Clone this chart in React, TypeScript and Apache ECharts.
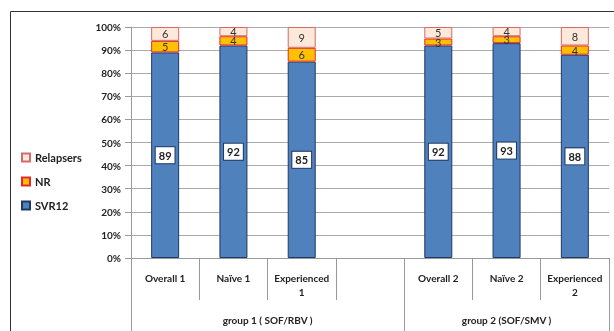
import React, { useEffect, useRef } from "react";
import * as echarts from "echarts";

const categories = ["Overall 1", "Naïve 1", "Experienced\n1", "", "Overall 2", "Naïve 2", "Experienced\n2"];
const svr12 = [89, 92, 85, "-", 92, 93, 88];
const nr = [5, 4, 6, "-", 3, 3, 4];
const relapsers = [6, 4, 9, "-", 5, 4, 8];
const groupLabels = ["", "", "", "", "group 1 ( SOF/RBV )", "", "", "", "", "", "", "group 2 (SOF/SMV )", "", "", ""];
const groupDividers = [0, 8, 14];
const legendOrder = ["Relapsers", "NR", "SVR12"];

const FONT = "Lato, 'Open Sans', sans-serif";

export default function App() {
  const ref = useRef<HTMLDivElement>(null);
  useEffect(() => {
    if (!ref.current) return;
    const chart = echarts.init(ref.current, undefined, { renderer: "svg" });
    chart.setOption({
      animation: false,
      textStyle: { fontFamily: FONT },
      graphic: [
        {
          type: "rect",
          z: -10,
          shape: { x: 10.5, y: 11.5, width: 700, height: 400 },
          style: { fill: "#fff", stroke: "#333", lineWidth: 1 },
          silent: true,
        },
      ],
      legend: {
        orient: "vertical",
        left: 21,
        top: 152,
        padding: 0,
        icon: "rect",
        itemWidth: 8,
        itemHeight: 8,
        itemGap: 13,
        data: legendOrder,
        textStyle: { fontFamily: FONT, fontWeight: "bold", fontSize: 11, color: "#222" },
      },
      grid: { left: 131, right: 5, top: 27, bottom: 73, containLabel: false },
      xAxis: [
        {
          type: "category",
          data: categories,
          position: "bottom",
          axisLine: { show: true, lineStyle: { color: "#999", width: 1 } },
          axisTick: { show: true, interval: 0, length: 42, lineStyle: { color: "#999" } },
          axisLabel: {
            interval: 0,
            margin: 13,
            fontSize: 10,
            fontWeight: "bold",
            color: "#222",
            lineHeight: 14,
            fontFamily: FONT,
          },
        },
        {
          type: "category",
          data: groupLabels,
          position: "bottom",
          boundaryGap: false,
          axisLine: { show: false },
          axisTick: {
            show: true,
            interval: (i: number) => groupDividers.includes(i),
            length: 80,
            lineStyle: { color: "#999" },
          },
          axisLabel: {
            interval: 0,
            margin: 57,
            fontSize: 10,
            fontWeight: "bold",
            color: "#222",
            fontFamily: FONT,
          },
        },
      ],
      yAxis: {
        type: "value",
        min: 0,
        max: 100,
        interval: 10,
        axisLine: { show: true, lineStyle: { color: "#999" } },
        axisTick: { show: true, length: 6, lineStyle: { color: "#999" } },
        axisLabel: {
          formatter: "{value}%",
          fontSize: 10,
          fontWeight: "bold",
          color: "#222",
          margin: 10,
          fontFamily: FONT,
        },
        splitLine: { show: true, lineStyle: { color: "#aaa", width: 1 } },
      },
      series: [
        {
          name: "SVR12",
          type: "bar",
          stack: "all",
          barWidth: 28,
          data: svr12,
          itemStyle: { color: "#4F81BD", borderColor: "#1F3864", borderWidth: 1 },
          label: {
            show: true,
            position: "inside",
            backgroundColor: "#fff",
            borderColor: "#1F3864",
            borderWidth: 1,
            padding: [3, 3, 2, 3],
            fontSize: 11,
            fontWeight: "bold",
            color: "#222",
            fontFamily: FONT,
          },
        },
        {
          name: "NR",
          type: "bar",
          stack: "all",
          barWidth: 28,
          data: nr,
          itemStyle: { color: "#FFC000", borderColor: "#E8262E", borderWidth: 1 },
          label: { show: true, position: "inside", fontSize: 11, color: "#333", fontFamily: FONT },
        },
        {
          name: "Relapsers",
          type: "bar",
          stack: "all",
          barWidth: 28,
          data: relapsers,
          itemStyle: { color: "#FDE9D9", borderColor: "#D46A6A", borderWidth: 1 },
          label: { show: true, position: "inside", fontSize: 11, color: "#333", fontFamily: FONT },
        },
      ],
    });
    return () => chart.dispose();
  }, []);
  return <div ref={ref} style={{ position: "fixed", left: 0, top: 0, width: 614, height: 331 }} />;
}
